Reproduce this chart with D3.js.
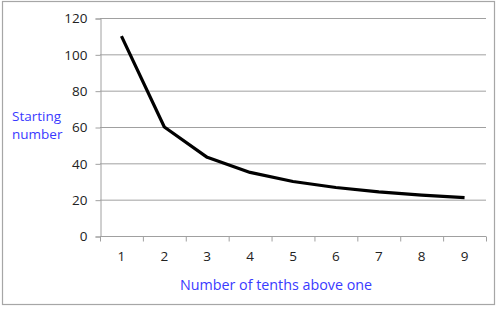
<!DOCTYPE html>
<html><head><meta charset="utf-8">
<script src="https://cdn.jsdelivr.net/npm/d3@7"></script>
<style>body{margin:0;background:#fff}svg{display:block}</style>
</head><body>
<svg id="c" width="497" height="309"></svg>
<script>
const categories = [1,2,3,4,5,6,7,8,9];
const values = [110, 60, 43.3, 35, 30, 26.7, 24.3, 22.5, 21.1];
const yTicks = [0,20,40,60,80,100,120];
const yTitle = ["Starting", "number"];
const xTitle = "Number of tenths above one";

const svg = d3.select("#c");
const font = "'Open Sans', 'Noto Sans', sans-serif";
svg.append("rect").attr("x",2.5).attr("y",1.5).attr("width",492).attr("height",303)
  .attr("fill","#fff").attr("stroke","#a6a6a6").attr("stroke-width",1.2);

const L=100, R=486, T=18, B=236;
const x = d3.scaleBand().domain(categories).range([L,R]).padding(0);
const y = d3.scaleLinear().domain([0,120]).range([B,T]);

// gridlines
svg.append("g").selectAll("line").data(yTicks.filter(d=>d>0)).join("line")
  .attr("x1",L).attr("x2",R).attr("y1",d=>y(d)+0.5).attr("y2",d=>y(d)+0.5)
  .attr("stroke","#a0a0a0").attr("stroke-width",1);

// y axis
const ya = svg.append("g").attr("transform",`translate(${L+0.5},0.5)`)
  .call(d3.axisLeft(y).tickValues(yTicks).tickSize(5).tickPadding(8));
ya.select(".domain").attr("stroke","#a0a0a0");
ya.selectAll(".tick line").attr("stroke","#a0a0a0");
ya.selectAll("text").attr("font-family",font).attr("font-size",13.5).attr("fill","#222");

// x axis with ticks between categories
const xa = svg.append("g").attr("transform",`translate(0,${B+0.5})`);
xa.append("line").attr("x1",L).attr("x2",R).attr("stroke","#a0a0a0");
const bounds = categories.map(c=>x(c)).concat([R]);
xa.selectAll("line.t").data(bounds).join("line").attr("class","t")
  .attr("x1",d=>d+0.5).attr("x2",d=>d+0.5).attr("y1",0).attr("y2",5).attr("stroke","#a0a0a0");
xa.selectAll("text").data(categories).join("text")
  .attr("x",d=>x(d)+x.bandwidth()/2).attr("y",24)
  .attr("text-anchor","middle").attr("font-family",font).attr("font-size",13.5).attr("fill","#222")
  .text(d=>d);

// line
const line = d3.line().x((d,i)=>x(categories[i])+x.bandwidth()/2).y(d=>y(d));
svg.append("path").datum(values).attr("d",line).attr("fill","none")
  .attr("stroke","#000").attr("stroke-width",3.2).attr("stroke-linejoin","round");

// titles
svg.append("text").attr("font-family",font).attr("font-size",13.5).attr("fill","#3a3aff")
  .selectAll("tspan").data(yTitle).join("tspan")
  .attr("x",12).attr("y",(d,i)=>121+i*18).text(d=>d);
svg.append("text").attr("x",276).attr("y",290).attr("text-anchor","middle")
  .attr("font-family",font).attr("font-size",14.3).attr("fill","#3a3aff").text(xTitle);
</script>
</body></html>
